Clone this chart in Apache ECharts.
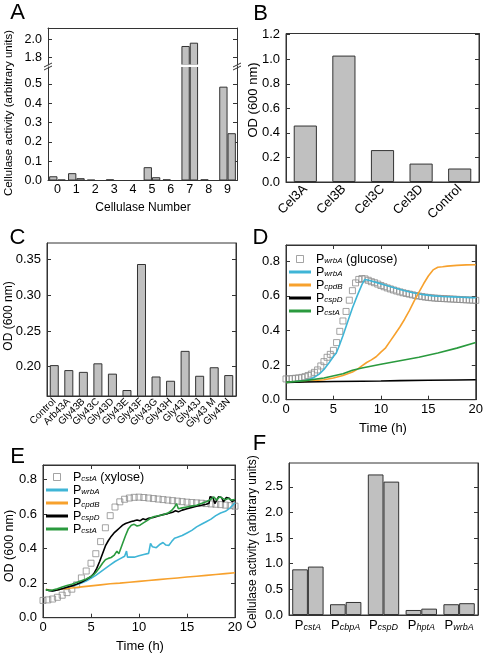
<!DOCTYPE html>
<html><head><meta charset="utf-8">
<script src="https://cdn.jsdelivr.net/npm/echarts@6/dist/echarts.min.js"></script>
<style>html,body{margin:0;padding:0;background:#fff}#c{width:486px;height:654px}</style>
</head><body><div id="c"></div>
<script>
// ---------- Panel A ----------
const aCategories = ['0','1','2','3','4','5','6','7','8','9'];
const aSeries1 = [0.022,0.038,0.004,0.006,0,0.069,0.006,1.927,0.006,0.486];
const aSeries2 = [0.005,0.012,0,0,0,0.017,0,1.963,0,0.245];
const aLowerTicks = [0,0.1,0.2,0.3,0.4,0.5];
const aUpperTicks = [1.8,2.0];
// ---------- Panel B ----------
const bCategories = ['Cel3A','Cel3B','Cel3C','Cel3D','Control'];
const bValues = [0.46,1.03,0.26,0.15,0.11];
const bTicks = [0,0.2,0.4,0.6,0.8,1.0,1.2];
// ---------- Panel C ----------
const cCategories = ['Control','Arb43A','Gly43B','Gly43C','Gly43D','Gly43E','Gly43F','Gly43G','Gly43H','Gly43I','Gly43J','Gly43 M','Gly43N'];
const cValues = [0.202,0.195,0.1925,0.2045,0.190,0.167,0.344,0.186,0.180,0.222,0.187,0.199,0.188];
const cTicks = [0.20,0.25,0.30,0.35];
// ---------- Panel D ----------
const dSqTime = [0,0.33,0.67,1,1.33,1.67,2,2.33,2.67,3,3.33,3.67,4,4.33,4.67,5,5.33,5.67,6,6.33,6.67,7,7.33,7.67,8,8.33,8.67,9,9.33,9.67,10,10.33,10.67,11,11.33,11.67,12,12.33,12.67,13,13.33,13.67,14,14.33,14.67,15,15.33,15.67,16,16.33,16.67,17,17.33,17.67,18,18.33,18.67,19,19.33,19.67,20];
const dSqOD = [0.120,0.121,0.122,0.124,0.126,0.129,0.133,0.140,0.148,0.158,0.172,0.195,0.220,0.245,0.262,0.285,0.330,0.395,0.455,0.510,0.575,0.630,0.675,0.695,0.700,0.698,0.690,0.682,0.676,0.668,0.660,0.653,0.646,0.640,0.634,0.628,0.623,0.618,0.614,0.610,0.606,0.602,0.599,0.596,0.593,0.591,0.589,0.587,0.586,0.585,0.584,0.583,0.582,0.581,0.580,0.579,0.578,0.577,0.576,0.575,0.574];
const dWrbA = [[0,0.100],[1,0.103],[2,0.110],[2.5,0.118],[3,0.130],[3.5,0.148],[4,0.175],[4.5,0.210],[5,0.250],[5.3,0.270],[5.6,0.310],[6,0.370],[6.5,0.450],[7,0.530],[7.5,0.600],[8,0.665],[8.3,0.695],[8.7,0.690],[9.5,0.678],[10.5,0.662],[11.5,0.645],[12.5,0.630],[13.5,0.617],[14.5,0.607],[15.5,0.600],[16.5,0.596],[17.5,0.594],[18.5,0.592],[19.5,0.590],[20,0.589]];
const dCpdB = [[0,0.100],[2,0.105],[4,0.115],[5,0.125],[6,0.140],[7,0.160],[7.5,0.175],[8,0.195],[8.5,0.215],[9,0.230],[9.5,0.248],[10,0.275],[10.5,0.300],[11,0.340],[11.5,0.380],[12,0.420],[12.5,0.465],[13,0.515],[13.5,0.570],[14,0.620],[14.5,0.670],[15,0.715],[15.5,0.750],[16,0.765],[16.5,0.768],[17,0.772],[18,0.776],[19,0.779],[20,0.780]];
const dCspD = [[0,0.100],[2,0.102],[5,0.105],[8,0.107],[10,0.108],[12,0.110],[15,0.112],[18,0.114],[20,0.115]];
const dCstA = [[0,0.100],[2,0.110],[4,0.125],[6,0.150],[7,0.170],[8,0.183],[10,0.205],[12,0.225],[14,0.245],[16,0.270],[18,0.298],[20,0.330]];
const dTicks = [0,0.2,0.4,0.6,0.8];
const timeTicks = [0,5,10,15,20];
// ---------- Panel E ----------
const eSqTime = [0,0.5,1,1.5,2,2.5,3,3.5,4,4.5,5,5.5,6,6.5,7,7.5,8,8.5,9,9.5,10,10.5,11,11.5,12,12.5,13,13.5,14,14.5,15,15.5,16,16.5,17,17.5,18,18.5,19,19.5,20];
const eSqOD = [0.100,0.103,0.108,0.118,0.130,0.145,0.165,0.190,0.230,0.270,0.315,0.370,0.440,0.520,0.590,0.640,0.670,0.685,0.692,0.696,0.697,0.695,0.692,0.689,0.686,0.683,0.680,0.677,0.674,0.671,0.668,0.666,0.664,0.662,0.660,0.658,0.656,0.654,0.651,0.648,0.645];
const eWrbA = [[0.3,0.165],[0.6,0.158],[1,0.155],[1.5,0.160],[2,0.168],[2.5,0.176],[3,0.183],[3.5,0.190],[4,0.200],[4.5,0.212],[5,0.228],[5.5,0.245],[6,0.265],[6.5,0.285],[7,0.305],[7.5,0.325],[8,0.340],[8.5,0.355],[8.7,0.385],[8.8,0.350],[9,0.340],[9.5,0.350],[10,0.358],[10.5,0.365],[11,0.372],[11.2,0.430],[11.4,0.410],[11.8,0.405],[12.2,0.425],[12.5,0.435],[12.8,0.420],[13.1,0.418],[13.4,0.440],[13.7,0.460],[14,0.465],[14.5,0.475],[15,0.490],[15.5,0.505],[16,0.525],[16.5,0.540],[17,0.555],[17.5,0.570],[18,0.590],[18.5,0.605],[19,0.615],[19.5,0.635],[20,0.665]];
const eCpdB = [[0.3,0.165],[0.7,0.158],[1,0.157],[1.5,0.162],[2,0.166],[3,0.172],[4,0.178],[5,0.184],[6,0.190],[7,0.196],[8,0.200],[9,0.205],[10,0.210],[11,0.215],[12,0.220],[13,0.225],[14,0.230],[15,0.235],[16,0.240],[17,0.245],[18,0.250],[19,0.255],[20,0.260]];
const eCspD = [[0.3,0.162],[0.6,0.158],[1,0.155],[1.5,0.160],[2,0.168],[2.5,0.176],[3,0.184],[3.5,0.194],[4,0.205],[4.5,0.220],[5,0.238],[5.3,0.255],[5.6,0.285],[5.9,0.325],[6.2,0.370],[6.5,0.415],[6.8,0.445],[7.1,0.470],[7.4,0.490],[7.7,0.505],[8,0.520],[8.3,0.535],[8.6,0.545],[8.9,0.550],[9.2,0.556],[9.5,0.560],[9.8,0.565],[10.1,0.560],[10.4,0.572],[10.7,0.566],[11,0.575],[11.5,0.580],[12,0.588],[12.5,0.596],[13,0.602],[13.5,0.610],[13.8,0.618],[14.1,0.612],[14.5,0.622],[15,0.630],[15.5,0.638],[16,0.645],[16.5,0.650],[17,0.656],[17.3,0.662],[17.4,0.700],[17.7,0.695],[17.9,0.660],[18.1,0.665],[18.3,0.700],[18.6,0.695],[18.8,0.670],[19.1,0.695],[19.4,0.690],[19.7,0.672],[20,0.680]];
const eCstA = [[0.3,0.162],[0.6,0.158],[1,0.160],[1.5,0.168],[2,0.178],[2.5,0.186],[3,0.194],[3.5,0.203],[4,0.213],[4.5,0.224],[5,0.238],[5.3,0.250],[5.6,0.268],[5.9,0.290],[6.2,0.315],[6.5,0.335],[6.8,0.343],[7.1,0.348],[7.4,0.360],[7.7,0.385],[7.9,0.370],[8.1,0.380],[8.3,0.430],[8.6,0.475],[8.9,0.515],[9.2,0.535],[9.5,0.540],[9.8,0.530],[10.1,0.535],[10.5,0.550],[10.8,0.560],[11.2,0.575],[11.6,0.585],[12,0.590],[12.5,0.595],[13,0.605],[13.4,0.620],[13.7,0.640],[13.9,0.660],[14.1,0.630],[14.5,0.635],[15,0.640],[15.5,0.645],[16,0.650],[16.5,0.660],[17,0.670],[17.5,0.685],[17.8,0.698],[18.1,0.680],[18.4,0.700],[18.7,0.690],[19,0.682],[19.3,0.690],[19.6,0.680],[20,0.684]];
const eTicks = [0,0.2,0.4,0.6,0.8];
// ---------- Panel F ----------
const fCategories = ['cstA','cbpA','cspD','hptA','wrbA'];
const fSeries1 = [0.89,0.21,2.74,0.098,0.21];
const fSeries2 = [0.944,0.254,2.60,0.124,0.23];
const fTicks = [0,0.5,1.0,1.5,2.0,2.5];

// ---------- styles ----------
const FONT = '"Liberation Sans", Arial, Helvetica, sans-serif';
const AX = '#333';
const BAR = {color:'#c0c0c0', borderColor:'#333', borderWidth:1};
const CYAN = '#3fb5d6', ORANGE = '#f7a12d', BLACK = '#000', GREEN = '#2a9a3e';
const SUB = {
  p:{fontSize:12.5, fontFamily:FONT, color:'#000', verticalAlign:'top', lineHeight:12},
  s:{fontSize:8, fontFamily:FONT, fontStyle:'italic', color:'#000', verticalAlign:'bottom', lineHeight:8, padding:[6,0,0,0]}
};

function valAxis(gi, min, max, ticks, labels, pos, dec, fs) {
  return {
    type:'value', gridIndex:gi, min:min, max:max, position:pos,
    axisLine:{show:true, onZero:false, lineStyle:{color:AX, width:1}},
    axisTick:{show:true, inside:true, length:4, customValues:ticks, lineStyle:{color:AX, width:1}},
    axisLabel:{show:labels, customValues:ticks, fontSize:fs||13, fontFamily:FONT, color:'#000',
      margin:(pos==='bottom') ? 3 : 6,
      formatter:function(v){return Number(v).toFixed(dec);}},
    splitLine:{show:false}
  };
}
function catAxis(gi, data, labelOpt, pos) {
  return {
    type:'category', gridIndex:gi, data:data, position:pos||'bottom',
    axisLine:{show:true, onZero:false, lineStyle:{color:AX, width:1}},
    axisTick:{show:false},
    axisLabel:Object.assign({fontSize:12, fontFamily:FONT, color:'#000', margin:3, interval:0}, labelOpt||{}),
    splitLine:{show:false}
  };
}
function barSeries(xi, yi, data, gap) {
  return {type:'bar', xAxisIndex:xi, yAxisIndex:yi, data:data, barGap:'0%', barCategoryGap:gap,
    itemStyle:BAR, clip:true, silent:true, animation:false};
}
function lineSeries(xi, yi, name, data, color) {
  return {type:'line', name:name, xAxisIndex:xi, yAxisIndex:yi, data:data, symbol:'none', showSymbol:false,
    lineStyle:{color:color, width:1.6}, itemStyle:{color:color}, silent:true, animation:false};
}
function sqSeries(xi, yi, name, t, v) {
  return {type:'scatter', name:name, xAxisIndex:xi, yAxisIndex:yi, data:t.map(function(x,i){return [x, v[i]];}),
    symbol:'rect', symbolSize:6, itemStyle:{color:'rgba(255,255,255,0)', borderColor:'#8c8c8c', borderWidth:1},
    silent:true, animation:false};
}

const aUpperMin = 1.72, aUpperMax = 2.123, aLowerMax = 0.593;
const legendLabels = {
  'D_sq':'{p|P}{s|wrbA}{p| (glucose)}', 'D_wrbA':'{p|P}{s|wrbA}', 'D_cpdB':'{p|P}{s|cpdB}', 'D_cspD':'{p|P}{s|cspD}', 'D_cstA':'{p|P}{s|cstA}',
  'E_sq':'{p|P}{s|cstA}{p| (xylose)}', 'E_wrbA':'{p|P}{s|wrbA}', 'E_cpdB':'{p|P}{s|cpdB}', 'E_cspD':'{p|P}{s|cspD}', 'E_cstA':'{p|P}{s|cstA}'
};
const LINE_ICON = 'path://M0,0H22V3H0Z';
const SQ_ICON = 'path://M0,0H10V10H0Z';
function legendFor(prefix, left, top) {
  return {
    orient:'vertical', left:left, top:top, itemWidth:22, itemHeight:7, itemGap:-2, padding:0,
    selectedMode:false, formatter:function(n){return legendLabels[n];},
    textStyle:{fontSize:12, fontFamily:FONT, color:'#000', rich:SUB},
    data:[
      {name:prefix+'_sq', icon:SQ_ICON, itemStyle:{color:'rgba(0,0,0,0)', borderColor:'#8c8c8c', borderWidth:1}},
      {name:prefix+'_wrbA', icon:LINE_ICON},
      {name:prefix+'_cpdB', icon:LINE_ICON},
      {name:prefix+'_cspD', icon:LINE_ICON},
      {name:prefix+'_cstA', icon:LINE_ICON}
    ]
  };
}
function letter(t, x, y) {
  return {type:'text', x:x, y:y, style:{text:t, font:'22px '+FONT, fill:'#000', textAlign:'center', textVerticalAlign:'middle'}};
}
function ytitle(t, x, y, size) {
  return {type:'text', x:x, y:y, rotation:Math.PI/2, style:{text:t, font:size+'px '+FONT, fill:'#000', textAlign:'center', textVerticalAlign:'middle'}};
}
function xtitle(t, x, y, size) {
  return {type:'text', x:x, y:y, style:{text:t, font:size+'px '+FONT, fill:'#000', textAlign:'center', textVerticalAlign:'middle'}};
}
function brk(x, y) {
  return [
    {type:'line', shape:{x1:x-4, y1:y+1, x2:x+4, y2:y-3}, style:{stroke:AX, lineWidth:1}, z:101},
    {type:'line', shape:{x1:x-4, y1:y+4, x2:x+4, y2:y}, style:{stroke:AX, lineWidth:1}, z:101}
  ];
}
const frame = {show:true, borderColor:AX, borderWidth:1, backgroundColor:'rgba(0,0,0,0)'};

const option = {
  animation:false,
  textStyle:{fontFamily:FONT},
  grid:[
    {left:48, top:28, width:189, height:37},                  // 0 A upper
    {left:48, top:66, width:189, height:114.5},               // 1 A lower
    Object.assign({left:286, top:33.5, width:193, height:148.5}, frame), // 2 B
    Object.assign({left:47, top:243, width:189, height:153}, frame),     // 3 C
    Object.assign({left:286, top:245, width:192, height:154.7}, frame),  // 4 D
    Object.assign({left:43, top:465, width:192, height:152.7}, frame),   // 5 E
    Object.assign({left:289, top:463, width:189, height:152}, frame)     // 6 F
  ],
  xAxis:[
    catAxis(0, aCategories, {show:false}, 'top'),
    catAxis(1, aCategories, {margin:3, fontSize:12.5}),
    catAxis(2, bCategories, {rotate:45, margin:5, fontSize:13}),
    catAxis(3, cCategories, {rotate:45, fontSize:10, margin:4}),
    valAxis(4, 0, 20, timeTicks, true, 'bottom', 0),
    valAxis(4, 0, 20, timeTicks, false, 'top', 0),
    valAxis(5, 0, 20, timeTicks, true, 'bottom', 0),
    valAxis(5, 0, 20, timeTicks, false, 'top', 0),
    catAxis(6, fCategories, {margin:4, formatter:function(v){return '{p|P}{s|'+v+'}';}, rich:{
      p:{fontSize:13, fontFamily:FONT, color:'#000', verticalAlign:'top', lineHeight:13},
      s:{fontSize:9, fontFamily:FONT, fontStyle:'italic', color:'#000', verticalAlign:'bottom', lineHeight:9, padding:[6,0,0,0]}}})
  ],
  yAxis:[
    valAxis(0, aUpperMin, aUpperMax, aUpperTicks, true, 'left', 1, 12.5),
    valAxis(0, aUpperMin, aUpperMax, aUpperTicks, false, 'right', 1),
    valAxis(1, 0, aLowerMax, aLowerTicks, true, 'left', 1, 12.5),
    valAxis(1, 0, aLowerMax, aLowerTicks, false, 'right', 1),
    valAxis(2, 0, 1.21, bTicks, true, 'left', 1),
    valAxis(2, 0, 1.21, bTicks, false, 'right', 1),
    valAxis(3, 0.1586, 0.3735, cTicks, true, 'left', 2),
    valAxis(3, 0.1586, 0.3735, cTicks, false, 'right', 2),
    valAxis(4, 0, 0.894, dTicks, true, 'left', 1),
    valAxis(4, 0, 0.894, dTicks, false, 'right', 1),
    valAxis(5, 0, 0.883, eTicks, true, 'left', 1),
    valAxis(5, 0, 0.883, eTicks, false, 'right', 1),
    valAxis(6, 0, 2.963, fTicks, true, 'left', 1),
    valAxis(6, 0, 2.963, fTicks, false, 'right', 1)
  ],
  legend:[ legendFor('D', 289, 251), legendFor('E', 46, 469) ],
  series:[
    barSeries(0, 0, aSeries1.map(function(v){return v >= aUpperMin ? v : '-';}), '12%'),
    barSeries(0, 0, aSeries2.map(function(v){return v >= aUpperMin ? v : '-';}), '12%'),
    barSeries(1, 2, aSeries1, '12%'),
    barSeries(1, 2, aSeries2, '12%'),
    barSeries(2, 4, bValues, '40%'),
    barSeries(3, 6, cValues, '38%'),
    sqSeries(4, 8, 'D_sq', dSqTime, dSqOD),
    lineSeries(4, 8, 'D_wrbA', dWrbA, CYAN),
    lineSeries(4, 8, 'D_cpdB', dCpdB, ORANGE),
    lineSeries(4, 8, 'D_cspD', dCspD, BLACK),
    lineSeries(4, 8, 'D_cstA', dCstA, GREEN),
    sqSeries(6, 10, 'E_sq', eSqTime, eSqOD),
    lineSeries(6, 10, 'E_wrbA', eWrbA, CYAN),
    lineSeries(6, 10, 'E_cpdB', eCpdB, ORANGE),
    lineSeries(6, 10, 'E_cspD', eCspD, BLACK),
    lineSeries(6, 10, 'E_cstA', eCstA, GREEN),
    barSeries(8, 12, fSeries1, '17%'),
    barSeries(8, 12, fSeries2, '17%')
  ],
  graphic:[
    {type:'rect', shape:{x:48.5, y:64.5, width:188, height:2.5}, style:{fill:'#fff'}, z:100},
    ...brk(48, 66), ...brk(237, 66),
    letter('A', 17.5, 13), letter('B', 260.5, 14), letter('C', 17.5, 238), letter('D', 260.5, 238),
    letter('E', 17.5, 457), letter('F', 259.5, 444),
    ytitle('Cellulase activity (arbitrary units)', 9, 113, 11.5),
    ytitle('OD (600 nm)', 253, 100, 13),
    ytitle('OD (600 nm)', 9, 316, 12),
    ytitle('OD (600 nm)', 10, 546, 12.5),
    ytitle('Cellulase activity (arbitrary units)', 253, 542, 12),
    xtitle('Cellulase Number', 143, 208, 12),
    xtitle('Time (h)', 383, 428, 13),
    xtitle('Time (h)', 140, 646, 13)
  ]
};
const chart = echarts.init(document.getElementById('c'), null, {renderer:'canvas'});
chart.setOption(option);
</script>
</body></html>
